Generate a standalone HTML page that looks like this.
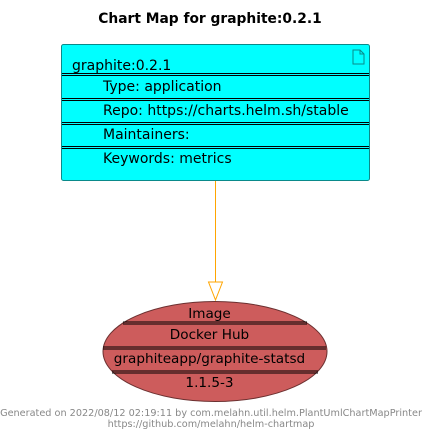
<!DOCTYPE html>
<html><head><meta charset="utf-8"><style>
html,body{margin:0;padding:0;background:#fff;width:428px;height:436px;overflow:hidden}
text{font-family:"DejaVu Sans","Liberation Sans",sans-serif}
</style></head><body>
<svg width="428" height="436" viewBox="0 0 428 436" xmlns="http://www.w3.org/2000/svg">
<text x="210" y="23" font-size="13.8" font-weight="bold" text-anchor="middle" fill="#000">Chart Map for graphite:0.2.1</text>
<rect x="61.5" y="44.5" width="308" height="136" rx="2" fill="#00FFFF" stroke="#0a8a8a" stroke-width="1"/>
<path d="M353 50 h7 l4 4 v10 h-11 z M360 50 v4 h4" fill="none" stroke="#0a8a8a" stroke-width="1"/>
<g stroke="#000" stroke-width="1">
<line x1="62" y1="73.5" x2="369" y2="73.5"/><line x1="62" y1="75.5" x2="369" y2="75.5"/>
<line x1="62" y1="98.5" x2="369" y2="98.5"/><line x1="62" y1="100.5" x2="369" y2="100.5"/>
<line x1="62" y1="122.5" x2="369" y2="122.5"/><line x1="62" y1="124.5" x2="369" y2="124.5"/>
<line x1="62" y1="146.5" x2="369" y2="146.5"/><line x1="62" y1="148.5" x2="369" y2="148.5"/>
</g>
<g font-size="14" fill="#000">
<text x="72" y="70">graphite:0.2.1</text>
<text x="103" y="91">Type: application</text>
<text x="103" y="115">Repo: https://charts.helm.sh/stable</text>
<text x="103" y="139">Maintainers:</text>
<text x="103" y="163">Keywords: metrics</text>
</g>
<line x1="215.5" y1="181" x2="215.5" y2="300" stroke="#FFA500" stroke-width="1"/>
<polygon points="208.5,282 222.5,282 215.5,300" fill="#fff" stroke="#FFA500" stroke-width="1"/>
<ellipse cx="215" cy="351.5" rx="112" ry="50" fill="#CD5C5C" stroke="#6b3030" stroke-width="1"/>
<g stroke="#000" stroke-width="1">
<line x1="123" y1="322" x2="307" y2="322"/><line x1="123" y1="324" x2="307" y2="324"/>
<line x1="103" y1="347" x2="326" y2="347"/><line x1="103" y1="349" x2="326" y2="349"/>
<line x1="112" y1="371" x2="318" y2="371"/><line x1="112" y1="373" x2="318" y2="373"/>
</g>
<g font-size="13.6" fill="#000" text-anchor="middle">
<text x="209.5" y="318">Image</text>
<text x="209.5" y="339">Docker Hub</text>
<text x="209.5" y="363">graphiteapp/graphite-statsd</text>
<text x="209.5" y="387">1.1.5-3</text>
</g>
<g font-size="9.7" fill="#888" text-anchor="middle">
<text x="211" y="416">Generated on 2022/08/12 02:19:11 by com.melahn.util.helm.PlantUmlChartMapPrinter</text>
<text x="211" y="427">https://github.com/melahn/helm-chartmap</text>
</g>
</svg>
</body></html>
